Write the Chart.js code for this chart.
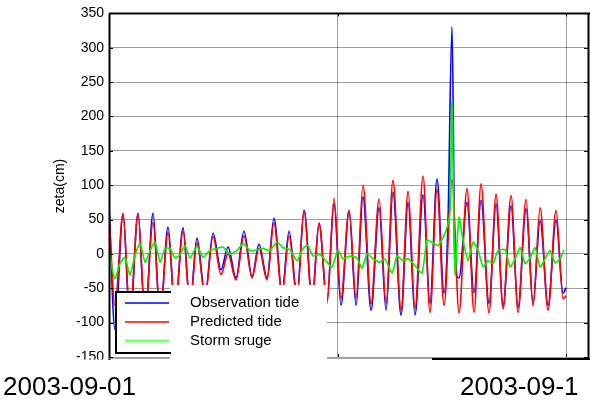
<!DOCTYPE html>
<html>
<head>
<meta charset="utf-8">
<script src="https://cdn.jsdelivr.net/npm/chart.js"></script>
<style>
  body { margin: 0; background: #fff; }
  canvas { display: block; }
</style>
</head>
<body>
<canvas id="tide" width="590" height="404"></canvas>
<script>
// time axis: hours since 2003-09-01 00:00
const obsHours = [0, 5.0, 11.8, 17.6, 24.4, 30.3, 37.0, 42.9, 49.6, 55.5, 62.2, 68.1, 73.9, 80.7, 87.4, 94.1,
  100.0, 106.7, 113.4, 120.2, 126.0, 132.8, 138.6, 145.4, 151.3, 158.0, 163.9, 170.6, 176.5, 183.2, 189.1, 194.9,
  201.7, 207.6, 213.4, 220.2, 226.9, 232.8, 238.6, 245.4, 251.3, 257.1, 263.9, 269.7, 275.6, 281.5, 284.8, 288.2,
  290.7, 294.1, 300.8, 306.7, 312.6, 319.3, 325.2, 331.1, 337.8, 343.7, 350.4, 356.3, 362.2, 368.9, 375.6, 381.5, 384];
const obsValues = [72, -110, 58, -100, 59, -95, 59, -92, 39, -82, 38, -72, 23, -60, 30, -23,
  10, -35, 33, -33, 14, -35, 52, -55, 33, -60, 64, -65, 45, -68, 74, -75,
  62, -75, 83, -82, 67, -82, 90, -89, 75, -89, 86, -72, 109, -57, 44, 331,
  -20, -35, 75, -57, 78, -72, 73, -76, 70, -78, 66, -72, 49, -75, 49, -57, -49];

const predHours = [0, 5.0, 11.8, 17.6, 24.4, 30.3, 37.0, 42.9, 49.6, 55.5, 62.2, 68.1, 73.9, 80.7, 87.4, 94.1,
  100.0, 106.7, 113.4, 120.2, 126.0, 132.8, 138.6, 145.4, 151.3, 158.0, 163.9, 170.6, 176.5, 183.2, 189.1, 194.9,
  201.7, 207.6, 213.4, 220.2, 226.9, 232.8, 238.6, 245.4, 251.3, 257.1, 263.9, 269.7, 275.6, 281.5, 288.2,
  294.1, 300.8, 306.7, 312.6, 319.3, 325.2, 331.1, 337.8, 343.7, 350.4, 356.3, 362.2, 368.9, 375.6, 381.5, 384];
const predValues = [62, -75, 59, -90, 58, -88, 46, -88, 31, -80, 33, -75, 16, -62, 25, -30,
  0, -38, 26, -35, 8, -38, 45, -60, 26, -65, 63, -70, 44, -72, 81, -65,
  64, -65, 100, -72, 80, -72, 107, -82, 91, -79, 113, -85, 94, -75, 108,
  -86, 95, -85, 102, -86, 87, -80, 85, -85, 79, -76, 67, -82, 63, -65, -61];

const surgeHours = [0, 2.5, 5.0, 9.2, 13.4, 17.6, 21.8, 26.1, 30.3, 34.5, 38.7, 42.9, 47.1, 51.3, 55.5, 59.7,
  63.9, 68.1, 73.9, 79.0, 84.9, 90.8, 95.8, 101.7, 107.6, 112.6, 118.5, 124.4, 129.4, 135.3, 141.2, 146.2,
  152.1, 158.0, 163.0, 167.2, 171.4, 177.3, 183.2, 187.4, 192.4, 196.6, 202.5, 208.4, 212.6, 216.8, 221.8, 227.7,
  231.9, 237.8, 242.0, 247.0, 251.3, 257.1, 263.0, 267.2, 271.4, 276.5, 280.7, 284.0, 286.5, 288.2, 290.7, 294.1,
  297.5, 301.7, 305.9, 310.1, 314.3, 318.5, 322.7, 326.9, 332.8, 337.0, 341.2, 345.4, 349.6, 353.8, 358.0, 362.2,
  366.4, 370.6, 374.8, 379.0, 382.3];
const surgeValues = [5, -20, -36, -14, -5, -31, -2, 15, -12, 5, 17, -12, 8, 8, -6, -1,
  12, -6, 11, -5, 5, 8, 10, 0, 5, 15, 5, 6, 8, 5, 17, 9,
  6, -10, 8, 12, -3, -1, -12, -19, 5, -7, -3, -6, -21, 0, -7, -12,
  -7, -28, -3, -10, -7, -17, -28, 20, 17, 12, 24, 38, 63, 221, -28, 53,
  20, -10, 17, 5, -19, -10, -14, 5, 6, -19, -7, 9, -14, -6, 9, -19,
  -7, 5, -13, -7, 6];

const yTicks = [-150, -100, -50, 0, 50, 100, 150, 200, 250, 300, 350];
const xTickHours = [0, 192, 384];
const xTickLabels = ['2003-09-01', '', '2003-09-17'];
const seriesNames = ['Observation tide', 'Predicted tide', 'Storm sruge'];
const seriesColors = ['#0000ff', '#ff0000', '#00f000'];

const FONT = '"Liberation Sans", Arial, sans-serif';

function pts(hs, vs) { return hs.map((h, i) => ({ x: h, y: vs[i] })); }

function line(ctx, x1, y1, x2, y2) {
  ctx.beginPath(); ctx.moveTo(x1, y1); ctx.lineTo(x2, y2); ctx.stroke();
}

// axes box, tick marks and the legend, drawn over the curves
const frame = {
  id: 'frame',
  afterDatasetsDraw(chart) {
    const { ctx, chartArea: a, scales: { x, y } } = chart;
    ctx.save();

    ctx.strokeStyle = '#000';
    ctx.lineWidth = 1;
    yTicks.forEach(v => {
      const py = Math.round(y.getPixelForValue(v)) + 0.5;
      line(ctx, a.left, py, a.left + 4, py);
      line(ctx, a.right - 5, py, a.right - 1, py);
    });
    xTickHours.slice(1).forEach(h => {
      const px = Math.round(x.getPixelForValue(h)) + 0.5;
      line(ctx, px, a.top, px, a.top + 3);
      line(ctx, px, a.bottom - 3, px, a.bottom);
    });

    // legend: bordered part with the sample lines, plain white part with the names
    ctx.fillStyle = '#fff';
    ctx.fillRect(170, 285, 157, 77);
    ctx.fillRect(116, 292, 56, 61);
    ctx.lineWidth = 2;
    ctx.strokeStyle = '#000';
    ctx.beginPath();
    ctx.moveTo(171, 292); ctx.lineTo(116, 292); ctx.lineTo(116, 353); ctx.lineTo(171, 353);
    ctx.stroke();

    const rows = [303, 322, 341];
    rows.forEach((ry, i) => {
      ctx.strokeStyle = i === 2 ? '#80ff80' : seriesColors[i];
      ctx.lineWidth = i === 2 ? 3 : 1.5;
      line(ctx, 125, ry, 169, ry);
      ctx.fillStyle = '#000';
      ctx.font = '15px ' + FONT;
      ctx.textBaseline = 'middle';
      ctx.textAlign = 'left';
      ctx.fillText(seriesNames[i], 190, ry);
    });

    // axes lines
    ctx.strokeStyle = '#000';
    ctx.lineWidth = 2;
    line(ctx, a.left + 0.5, a.top, a.left + 0.5, a.bottom + 3);
    line(ctx, a.left, a.top, 590, a.top);
    line(ctx, a.right - 0.5, a.top, a.right - 0.5, a.bottom + 3);
    line(ctx, 432, a.bottom + 2, 590, a.bottom + 2);
    ctx.strokeStyle = '#a8a8a8';
    ctx.lineWidth = 1;
    line(ctx, a.left, a.bottom + 1.5, 170, a.bottom + 1.5);
    line(ctx, 327, a.bottom + 1.5, 432, a.bottom + 1.5);
    ctx.restore();
  },
  afterDraw(chart) {
    const { ctx, chartArea: a, scales: { x } } = chart;
    ctx.save();
    ctx.fillStyle = '#fff';
    ctx.fillRect(0, 359.5, a.left - 1, 45);
    ctx.fillRect(0, 361, 590, 43);

    // date labels sit left of their ticks; the right one runs off the edge
    ctx.beginPath();
    ctx.rect(0, 361, 578.5, 43);
    ctx.clip();
    ctx.fillStyle = '#000';
    ctx.font = '26px ' + FONT;
    ctx.textAlign = 'left';
    ctx.textBaseline = 'middle';
    xTickHours.forEach((h, i) => {
      if (xTickLabels[i]) ctx.fillText(xTickLabels[i], x.getPixelForValue(h) - 106, 388);
    });
    ctx.restore();

    ctx.save();
    ctx.fillStyle = '#000';
    ctx.textAlign = 'center';
    ctx.textBaseline = 'middle';
    ctx.translate(60, 186);
    ctx.rotate(-Math.PI / 2);
    ctx.font = '14px ' + FONT;
    ctx.fillText('zeta(cm)', 0, 0);
    ctx.restore();
  }
};

new Chart(document.getElementById('tide'), {
  type: 'line',
  data: {
    datasets: [
      { label: seriesNames[0], data: pts(obsHours, obsValues), borderColor: seriesColors[0], order: 2 },
      { label: seriesNames[1], data: pts(predHours, predValues), borderColor: seriesColors[1], order: 1 },
      { label: seriesNames[2], data: pts(surgeHours, surgeValues), borderColor: seriesColors[2], order: 0,
        cubicInterpolationMode: 'default', tension: 0.2 }
    ]
  },
  options: {
    responsive: false,
    animation: false,
    layout: { padding: { top: 11, right: 1, bottom: 47, left: 0 } },
    elements: {
      point: { radius: 0 },
      line: { borderWidth: 1.6, cubicInterpolationMode: 'monotone', fill: false }
    },
    plugins: { legend: { display: false }, tooltip: { enabled: false } },
    scales: {
      x: {
        type: 'linear',
        min: 0,
        max: 403.3,
        afterBuildTicks: s => { s.ticks = xTickHours.map(v => ({ value: v })); },
        afterFit: s => { s.height = 0; },
        ticks: { display: false },
        grid: { color: 'rgba(0,0,0,0.38)', lineWidth: 1, drawTicks: false },
        border: { display: false }
      },
      y: {
        min: -150,
        max: 350,
        afterBuildTicks: s => { s.ticks = yTicks.map(v => ({ value: v })); },
        afterFit: s => { s.width = 109; },
        ticks: { color: '#000', padding: 5, font: { family: FONT, size: 14 } },
        grid: { color: 'rgba(0,0,0,0.38)', lineWidth: 1, drawTicks: false },
        border: { display: false }
      }
    }
  },
  plugins: [frame]
});
</script>
</body>
</html>
